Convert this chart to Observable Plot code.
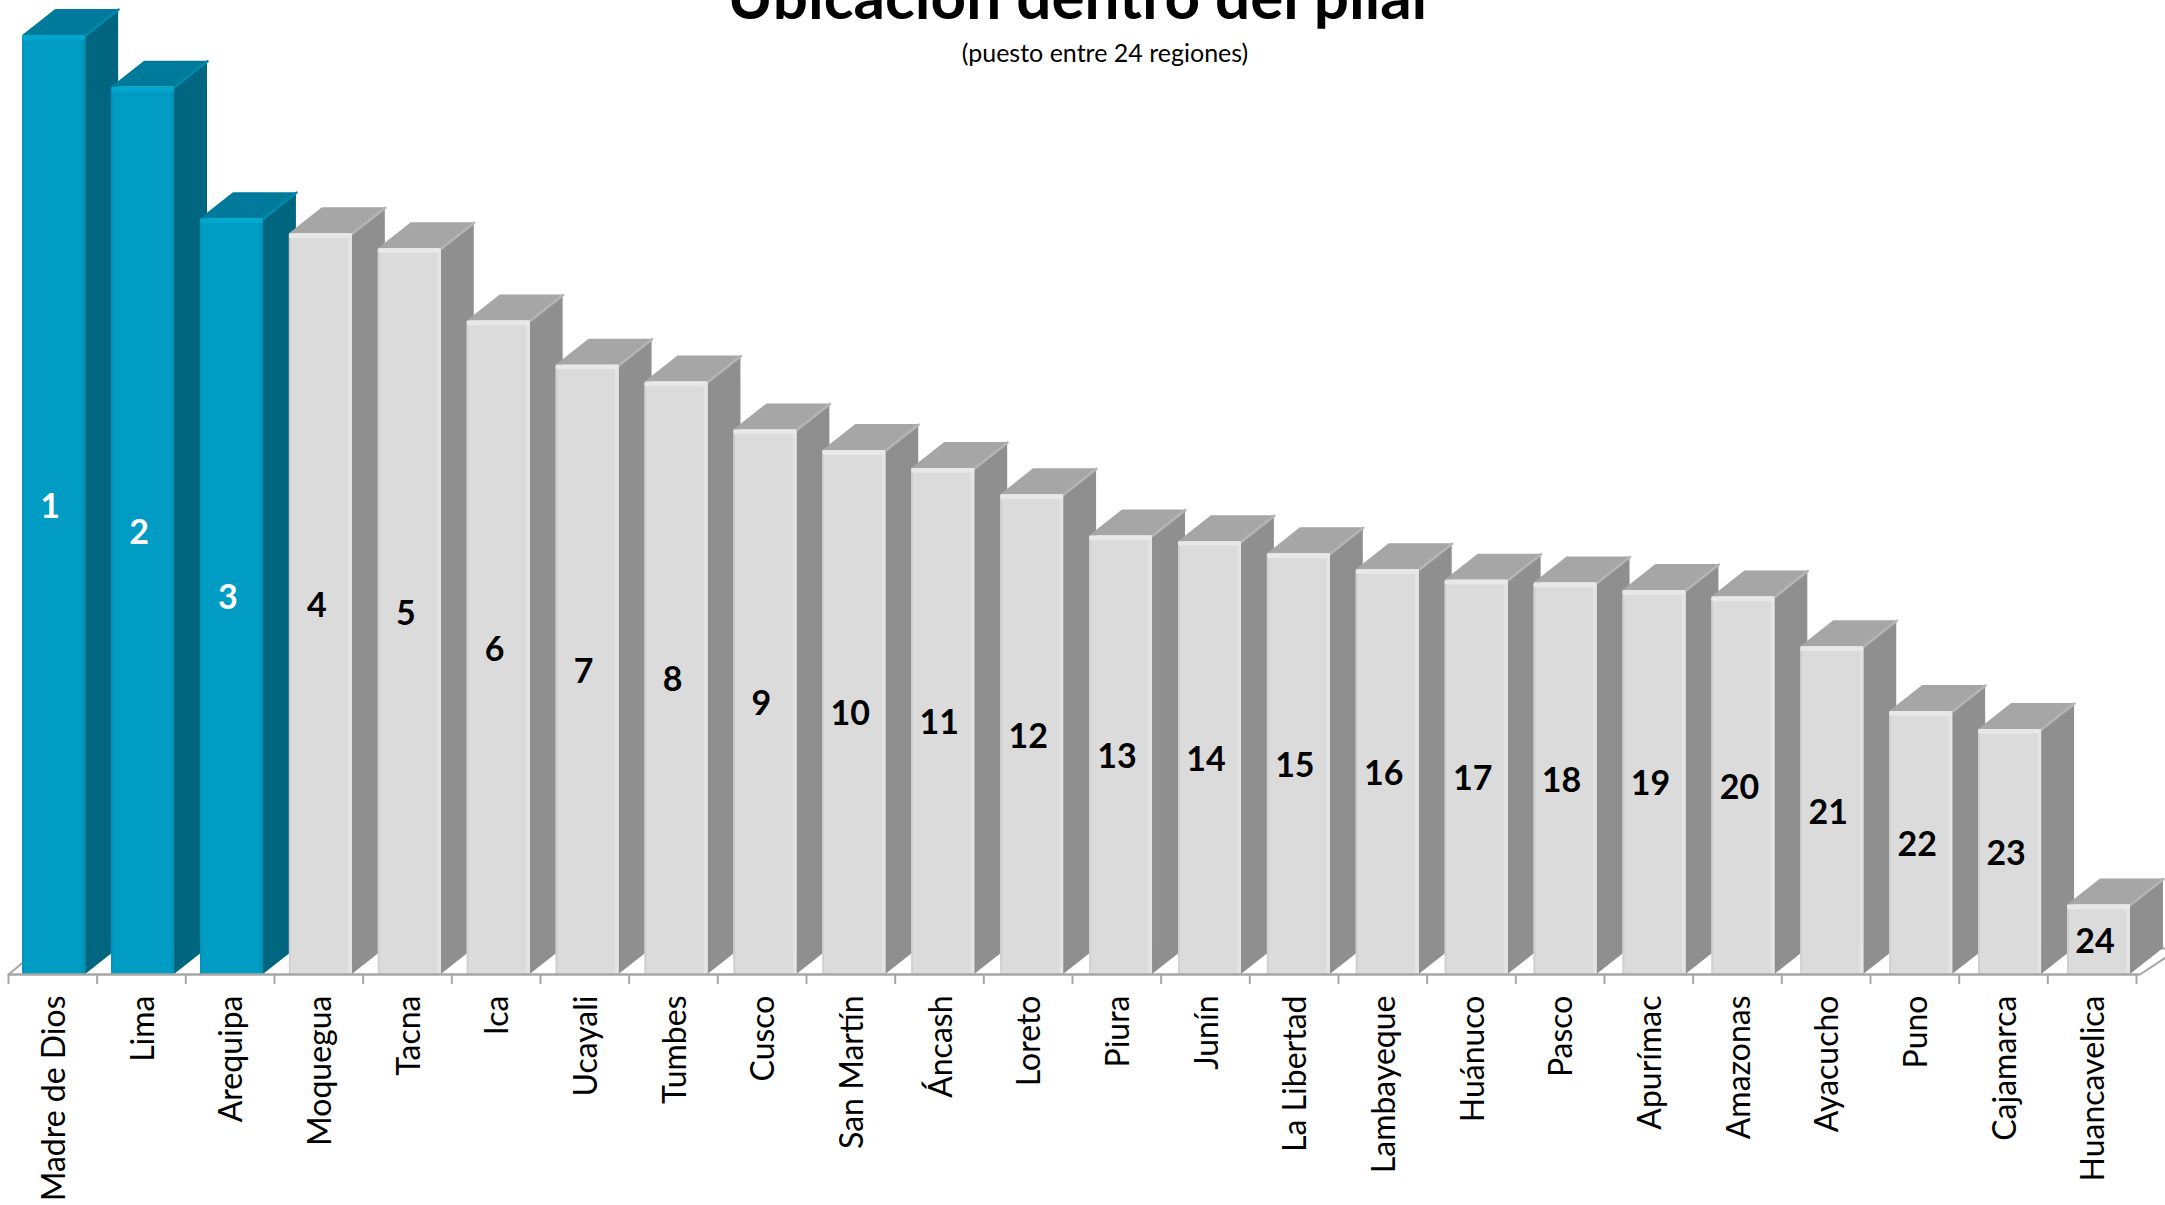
<!DOCTYPE html>
<html><head><meta charset="utf-8">
<style>
html,body{margin:0;padding:0;background:#fff;overflow:hidden;width:2165px;height:1205px}
#wrap{position:relative;width:2165px;height:1205px;overflow:hidden}
.t{position:absolute;white-space:nowrap;transform:translateX(-50%);font-family:Lato,sans-serif;color:#000}
#title{left:1081px;top:-40px;font-size:62px;font-weight:700;line-height:70px}
#sub{left:1105px;top:38px;font-size:25px;line-height:28px}
svg{position:absolute;left:0;top:0}
</style>
<script src="https://cdn.jsdelivr.net/npm/d3@7"></script>
<script src="https://cdn.jsdelivr.net/npm/@observablehq/plot@0.6"></script>
</head><body><div id="wrap">
<div class="t" id="title">Ubicación dentro del pilar</div>
<div class="t" id="sub">(puesto entre 24 regiones)</div>
</div>
<script>
const regions = ["Madre de Dios","Lima","Arequipa","Moquegua","Tacna","Ica","Ucayali","Tumbes","Cusco","San Martín","Áncash","Loreto","Piura","Junín","La Libertad","Lambayeque","Huánuco","Pasco","Apurímac","Amazonas","Ayacucho","Puno","Cajamarca","Huancavelica"];
const scores = [10.0,9.45,8.05,7.89,7.73,6.96,6.49,6.31,5.80,5.58,5.39,5.11,4.67,4.61,4.48,4.31,4.20,4.17,4.09,4.02,3.49,2.80,2.61,0.74];
const ranks = d3.range(1,25);
const highlighted = ["Madre de Dios","Lima","Arequipa"];

const W = 0.71, L = 0.16, STEP = 1.0027, DX = 0.372, DY = 0.277;   // bar geometry in scale units
const rows = regions.map((r,i)=>({r,i,v:scores[i],rank:ranks[i],hi:highlighted.includes(r),l:i*STEP+L,x2:i*STEP+L+W}));
const pal = hi => hi ? {front:"#009cc3",top:"#007a9a",side:"#00657f",edge:"#0089ab",hl:"#00a7cf",sh:"#0094b9",lf:"#0094b9"}
                     : {front:"#dbdbdb",top:"#a6a6a6",side:"#8f8f8f",edge:"#b5b5b5",hl:"#e8e8e8",sh:"#e4e4e4",lf:"#cfcfcf"};

const sidePts = rows.flatMap(d=>[
  {r:d.r,hi:d.hi,x:d.x2,y1:0,y2:d.v},
  {r:d.r,hi:d.hi,x:d.x2+DX,y1:DY,y2:d.v+DY}]);
const topPts = rows.flatMap(d=>[
  {r:d.r,hi:d.hi,x:d.l,y1:d.v,y2:d.v},
  {r:d.r,hi:d.hi,x:d.l+DX,y1:d.v,y2:d.v+DY},
  {r:d.r,hi:d.hi,x:d.x2,y1:d.v,y2:d.v+DY},
  {r:d.r,hi:d.hi,x:d.x2+DX,y1:d.v+DY,y2:d.v+DY}]);
const edgePts = rows.flatMap(d=>[
  {r:d.r,hi:d.hi,x:d.x2,y:d.v},{r:d.r,hi:d.hi,x:d.x2+DX,y:d.v+DY}]);

const plot = Plot.plot({
  width:2165,height:1205,marginLeft:8,marginRight:29,marginTop:0,marginBottom:231,
  style:{background:"transparent",fontFamily:"Lato,sans-serif"},
  x:{domain:[0,24],range:[8,2136]},
  y:{domain:[0,974/93.89],range:[974,0],axis:null},
  marks:[
    // floor
    Plot.line([{x:0,y:0},{x:L,y:0.125}],{x:"x",y:"y",stroke:"#a6a6a6",strokeWidth:2}),
    Plot.line([{x:24.04,y:0},{x:24.36,y:0.2}],{x:"x",y:"y",stroke:"#a6a6a6",strokeWidth:2}),
    Plot.line([{x:24.2,y:DY},{x:24.5,y:DY}],{x:"x",y:"y",stroke:"#a6a6a6",strokeWidth:2}),
    // side faces
    Plot.areaY(sidePts,{x:"x",y1:"y1",y2:"y2",z:"r",fill:d=>pal(d.hi).side}),
    // top faces
    Plot.areaY(topPts,{x:"x",y1:"y1",y2:"y2",z:"r",fill:d=>pal(d.hi).top}),
    Plot.line(edgePts,{x:"x",y:"y",z:"r",stroke:d=>pal(d.hi).edge,strokeWidth:2.5,strokeLinecap:"round"}),
    // front faces
    Plot.rect(rows,{x1:"l",x2:"x2",y1:0,y2:"v",fill:d=>pal(d.hi).front,rx:2}),
    Plot.rect(rows,{x1:d=>d.x2-0.04,x2:"x2",y1:0,y2:"v",fill:d=>pal(d.hi).sh,rx:1}),
    Plot.rect(rows,{x1:"l",x2:d=>d.l+0.02,y1:0,y2:"v",fill:d=>pal(d.hi).lf}),
    Plot.rect(rows,{x1:"l",x2:"x2",y1:d=>d.v-0.05,y2:"v",fill:d=>pal(d.hi).hl,rx:2}),
    // base line and ticks
    Plot.ruleY([0],{x1:0,x2:24.04,stroke:"#a6a6a6",strokeWidth:2.5}),
    Plot.axisX({ticks:d3.range(0,25),tickFormat:()=>"",tickSize:10,stroke:"#a6a6a6",strokeWidth:2,label:null}),
    Plot.axisX({ticks:rows.map(d=>d.i+0.5),tickFormat:t=>regions[Math.floor(t)],tickSize:0,tickPadding:21,tickRotate:-90,fontSize:32,fill:"#000",label:null,textOverflow:null,lineWidth:Infinity,dx:2}),
    // rank labels
    Plot.text(rows,{x:d=>d.l+W/2,y:d=>d.v/2,text:"rank",fill:d=>d.hi?"#fff":"#000",fontSize:34,fontWeight:700,dx:-4,dy:2})
  ]
});
document.getElementById("wrap").appendChild(plot);
</script>
</body></html>
